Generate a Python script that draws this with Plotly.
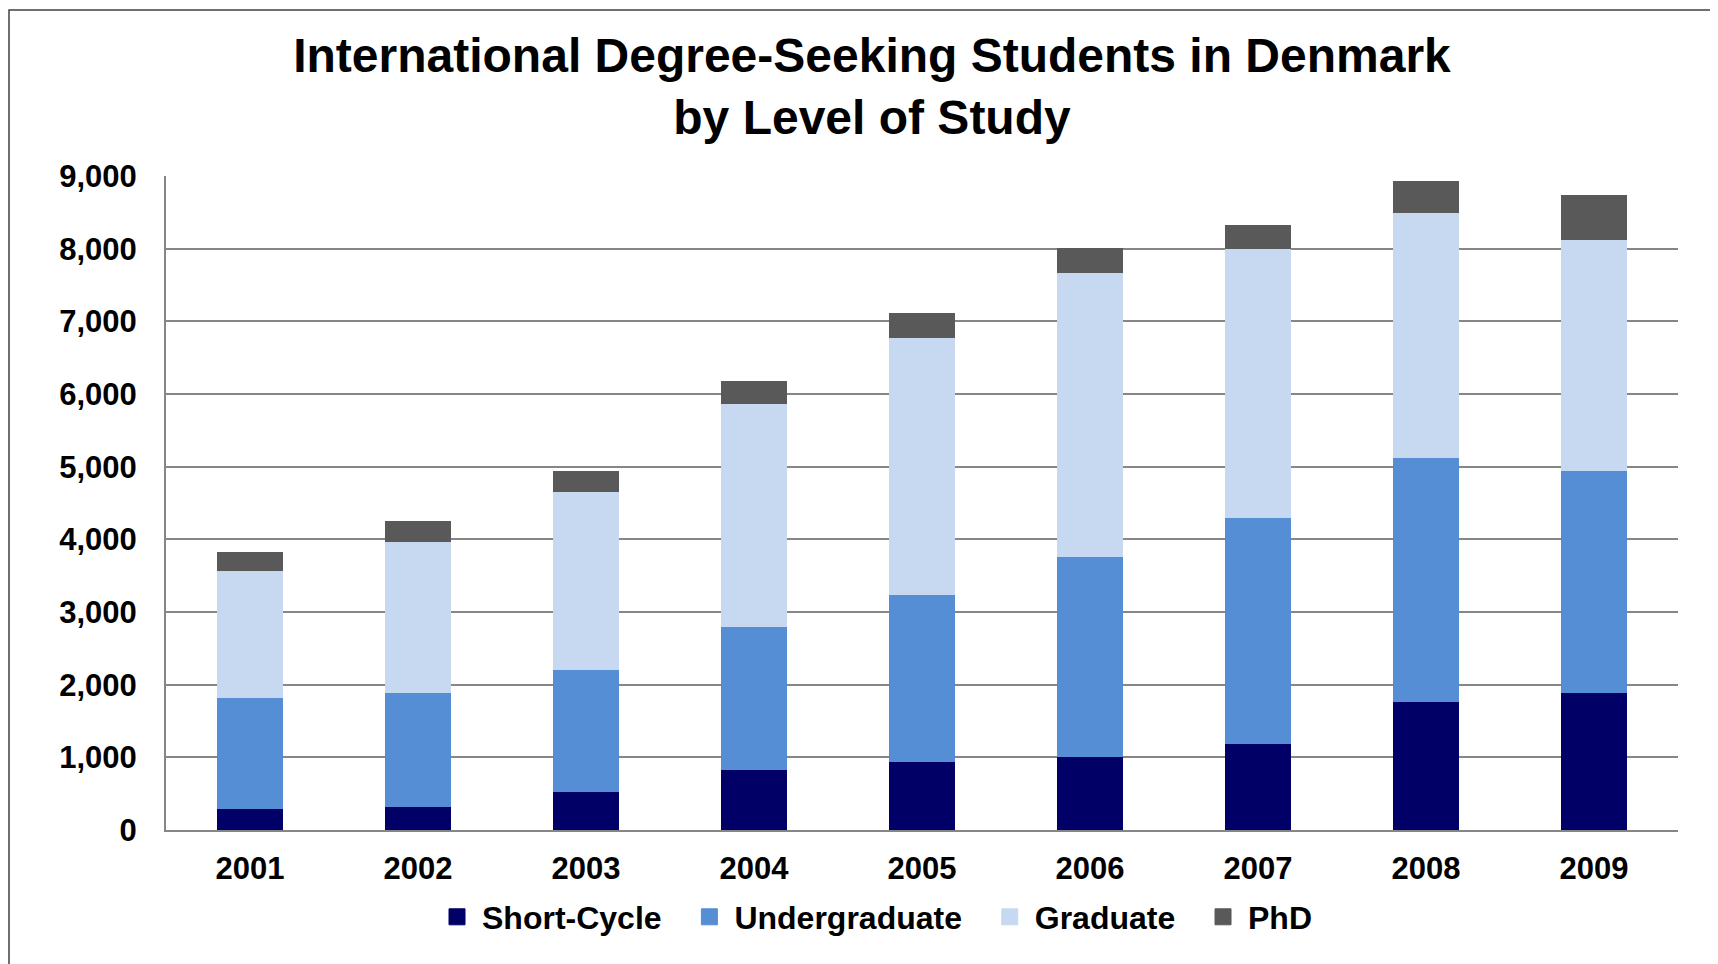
import plotly.graph_objects as go

years = ["2001", "2002", "2003", "2004", "2005", "2006", "2007", "2008", "2009"]
short_cycle = [290, 313, 528, 822, 933, 1000, 1178, 1761, 1890]
undergraduate = [1526, 1577, 1668, 1976, 2300, 2755, 3110, 3356, 3049]
graduate = [1742, 2079, 2454, 3067, 3540, 3908, 3706, 3380, 3184]
phd = [264, 283, 289, 319, 344, 349, 337, 429, 619]

series_names = ["Short-Cycle", "Undergraduate", "Graduate", "PhD"]
series_values = [short_cycle, undergraduate, graduate, phd]
series_colors = ["#000066", "#558ED5", "#C6D9F1", "#595959"]

FONT = "Liberation Sans, Arial, sans-serif"

fig = go.Figure()
for name, vals, col in zip(series_names, series_values, series_colors):
    fig.add_trace(go.Bar(
        x=years, y=vals, name=name, marker=dict(color=col, line=dict(width=0)),
        showlegend=False,
    ))
# legend entries (square markers like the reference)
for i, (name, col) in enumerate(zip(series_names, series_colors)):
    pad = "\u00a0\u00a0" if i < len(series_names) - 1 else ""
    fig.add_trace(go.Scatter(
        x=[None], y=[None], mode="markers", name=name + pad,
        marker=dict(symbol="square", size=16, color=col, line=dict(width=1, color=col)),
        showlegend=True,
    ))

W, H = 1718, 964
L, R, T, B = 158, 48, 168, 142
pw, ph = W - L - R, H - T - B

def px_x(x):
    return (x - L) / pw

def px_y(y):
    return (H - B - y) / ph

fig.update_layout(
    width=W, height=H,
    barmode="stack", bargap=0.603,
    paper_bgcolor="white", plot_bgcolor="white",
    margin=dict(l=L, r=R, t=T, b=B, pad=0),
    font=dict(family=FONT, color="black"),
    title=dict(
        text="International Degree-Seeking Students in Denmark<br>by Level of Study",
        font=dict(family=FONT, size=48, weight="bold", color="black"),
        x=864 / W, xref="container", xanchor="center",
        y=1 - 63.5 / H, yref="container", yanchor="top",
    ),
    xaxis=dict(
        type="category", showgrid=False, showline=True, linecolor="#868686", linewidth=2,
        ticks="", tickfont=dict(family=FONT, size=31, weight="bold", color="black"),
        ticklabelstandoff=10, zeroline=False,
    ),
    yaxis=dict(
        range=[0, 9000], dtick=1000, tick0=0, tickformat=",",
        showgrid=True, gridcolor="#868686", gridwidth=1.5,
        showline=True, linecolor="#868686", linewidth=2, zeroline=False,
        ticks="", tickfont=dict(family=FONT, size=31, weight="bold", color="black"),
        ticklabelstandoff=21,
    ),
    legend=dict(
        orientation="h", x=px_x(867), xanchor="center", y=px_y(909), yanchor="middle",
        font=dict(family=FONT, size=32, weight="bold", color="black"),
        itemwidth=40, bgcolor="rgba(0,0,0,0)", traceorder="normal",
    ),
    shapes=[dict(
        type="rect", xref="paper", yref="paper",
        x0=px_x(1), x1=px_x(1740), y0=px_y(990), y1=px_y(2),
        line=dict(color="#404040", width=1.5), fillcolor="rgba(0,0,0,0)", layer="below",
    )],
)

fig.write_html("out.html")
